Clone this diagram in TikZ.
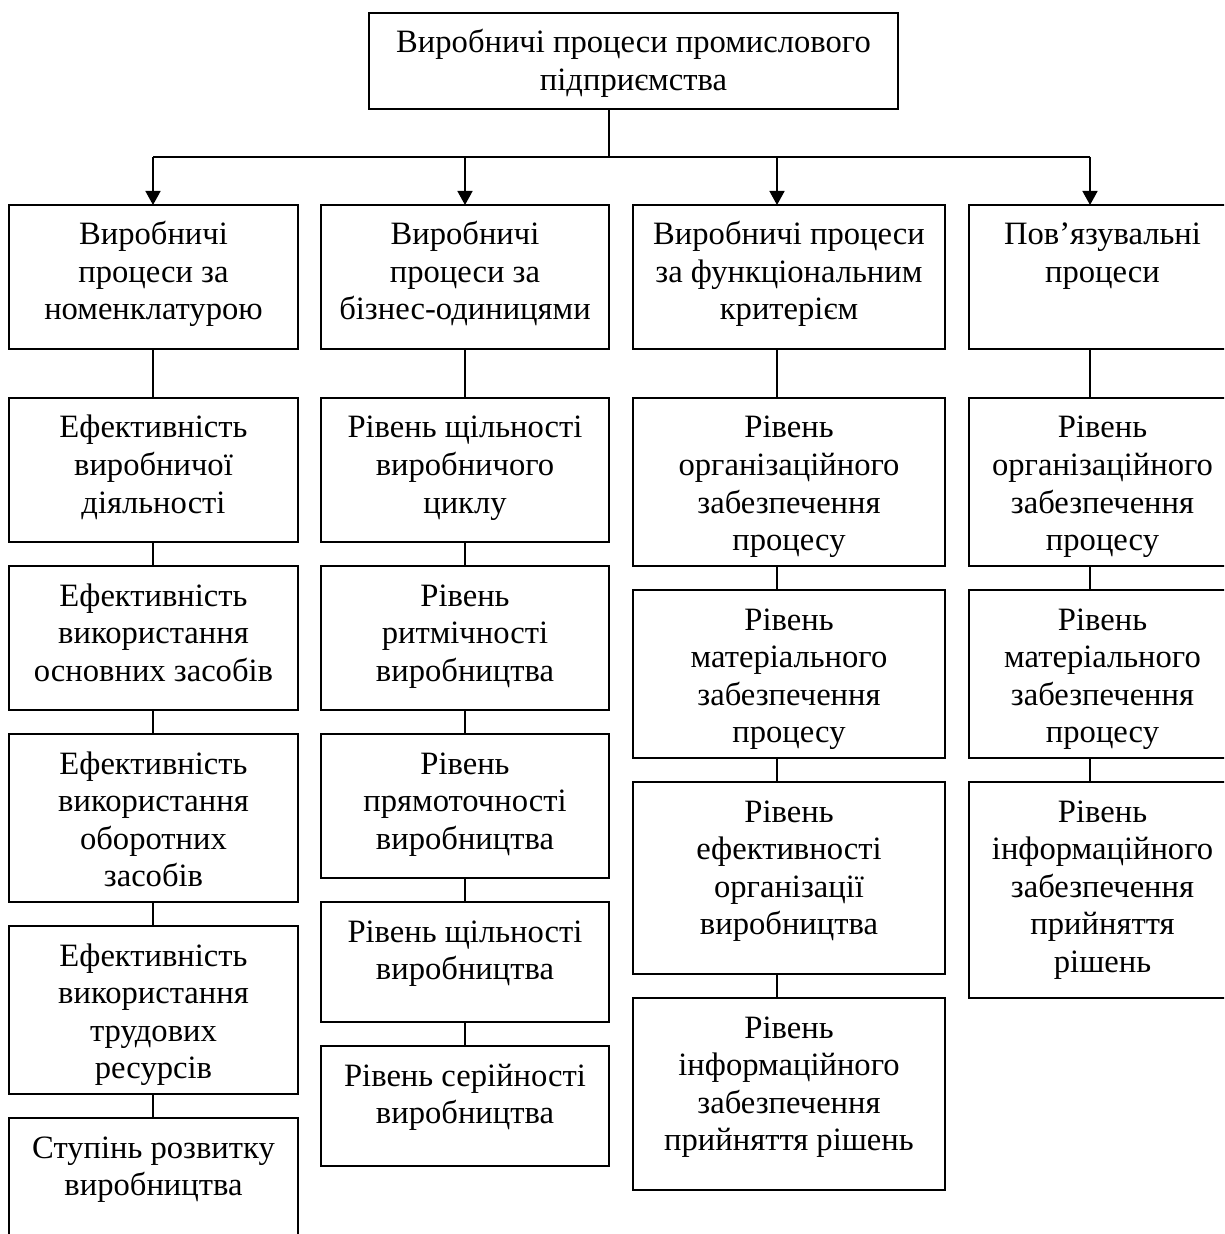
\documentclass[tikz,border=0pt]{standalone}
\usepackage{fontspec}
\setmainfont{Liberation Serif}
\usetikzlibrary{arrows.meta}
\tikzset{
  boxst/.style={draw, line width=0.8pt, inner sep=0pt, outer sep=0pt, anchor=north west,
    font=\fontsize{16.3}{18.75}\selectfont},
  link/.style={line width=0.7pt},
  arr/.style={line width=0.8pt, -{Triangle[length=7pt,width=7.5pt]}}
}
\newcommand{\bx}[6]{\node[boxst] (#1) at (#2,#3) {\parbox[c][#5pt][t]{#4pt}{\centering\rule{0pt}{20pt}#6}};}
\begin{document}
\begin{tikzpicture}[x=0.5pt,y=-0.5pt]
\useasboundingbox (0,0) rectangle (1224,1234);
\clip (0,0) rectangle (1224,1234);
% top
\bx{top}{369}{13}{264.5}{48}{Виробничі процеси промислового\\підприємства}
% column 1
\bx{c1a}{9}{205}{144.5}{72}{Виробничі\\процеси за\\номенклатурою}
\bx{c1b}{9}{398}{144.5}{72}{Ефективність\\виробничої\\діяльності}
\bx{c1c}{9}{566}{144.5}{72}{Ефективність\\використання\\основних засобів}
\bx{c1d}{9}{734}{144.5}{84}{Ефективність\\використання\\оборотних\\засобів}
\bx{c1e}{9}{926}{144.5}{84}{Ефективність\\використання\\трудових\\ресурсів}
\bx{c1f}{9}{1118}{144.5}{72}{Ступінь розвитку\\виробництва}
% column 2
\bx{c2a}{321}{205}{144}{72}{Виробничі\\процеси за\\бізнес-одиницями}
\bx{c2b}{321}{398}{144}{72}{Рівень щільності\\виробничого\\циклу}
\bx{c2c}{321}{566}{144}{72}{Рівень\\ритмічності\\виробництва}
\bx{c2d}{321}{734}{144}{72}{Рівень\\прямоточності\\виробництва}
\bx{c2e}{321}{902}{144}{60}{Рівень щільності\\виробництва}
\bx{c2f}{321}{1046}{144}{60}{Рівень серійності\\виробництва}
% column 3
\bx{c3a}{633}{205}{156}{72}{Виробничі процеси\\за функціональним\\критерієм}
\bx{c3b}{633}{398}{156}{84}{Рівень\\організаційного\\забезпечення\\процесу}
\bx{c3c}{633}{590}{156}{84}{Рівень\\матеріального\\забезпечення\\процесу}
\bx{c3d}{633}{782}{156}{96}{Рівень\\ефективності\\організації\\виробництва}
\bx{c3e}{633}{998}{156}{96}{Рівень\\інформаційного\\забезпечення\\прийняття рішень}
% column 4
\bx{c4a}{969}{205}{133.5}{72}{Пов’язувальні\\процеси}
\bx{c4b}{969}{398}{133.5}{84}{Рівень\\організаційного\\забезпечення\\процесу}
\bx{c4c}{969}{590}{133.5}{84}{Рівень\\матеріального\\забезпечення\\процесу}
\bx{c4d}{969}{782}{133.5}{108}{Рівень\\інформаційного\\забезпечення\\прийняття\\рішень}
% guide coordinates
\coordinate (hub) at (609,157);
\coordinate (k1) at (153,0);
\coordinate (k2) at (465,0);
\coordinate (k3) at (777,0);
\coordinate (k4) at (1090,0);
% top connectors
\draw[link] (top.south -| hub) -- (hub);
\draw[link] (hub -| k1) -- (hub -| k4);
\draw[arr] (hub -| k1) -- (c1a.north -| k1);
\draw[arr] (hub -| k2) -- (c2a.north -| k2);
\draw[arr] (hub -| k3) -- (c3a.north -| k3);
\draw[arr] (hub -| k4) -- (c4a.north -| k4);
% column connectors
\draw[link] (c1a.south -| k1) -- (c1b.north -| k1);
\draw[link] (c1b.south -| k1) -- (c1c.north -| k1);
\draw[link] (c1c.south -| k1) -- (c1d.north -| k1);
\draw[link] (c1d.south -| k1) -- (c1e.north -| k1);
\draw[link] (c1e.south -| k1) -- (c1f.north -| k1);
\draw[link] (c2a.south -| k2) -- (c2b.north -| k2);
\draw[link] (c2b.south -| k2) -- (c2c.north -| k2);
\draw[link] (c2c.south -| k2) -- (c2d.north -| k2);
\draw[link] (c2d.south -| k2) -- (c2e.north -| k2);
\draw[link] (c2e.south -| k2) -- (c2f.north -| k2);
\draw[link] (c3a.south -| k3) -- (c3b.north -| k3);
\draw[link] (c3b.south -| k3) -- (c3c.north -| k3);
\draw[link] (c3c.south -| k3) -- (c3d.north -| k3);
\draw[link] (c3d.south -| k3) -- (c3e.north -| k3);
\draw[link] (c4a.south -| k4) -- (c4b.north -| k4);
\draw[link] (c4b.south -| k4) -- (c4c.north -| k4);
\draw[link] (c4c.south -| k4) -- (c4d.north -| k4);
\end{tikzpicture}
\end{document}
